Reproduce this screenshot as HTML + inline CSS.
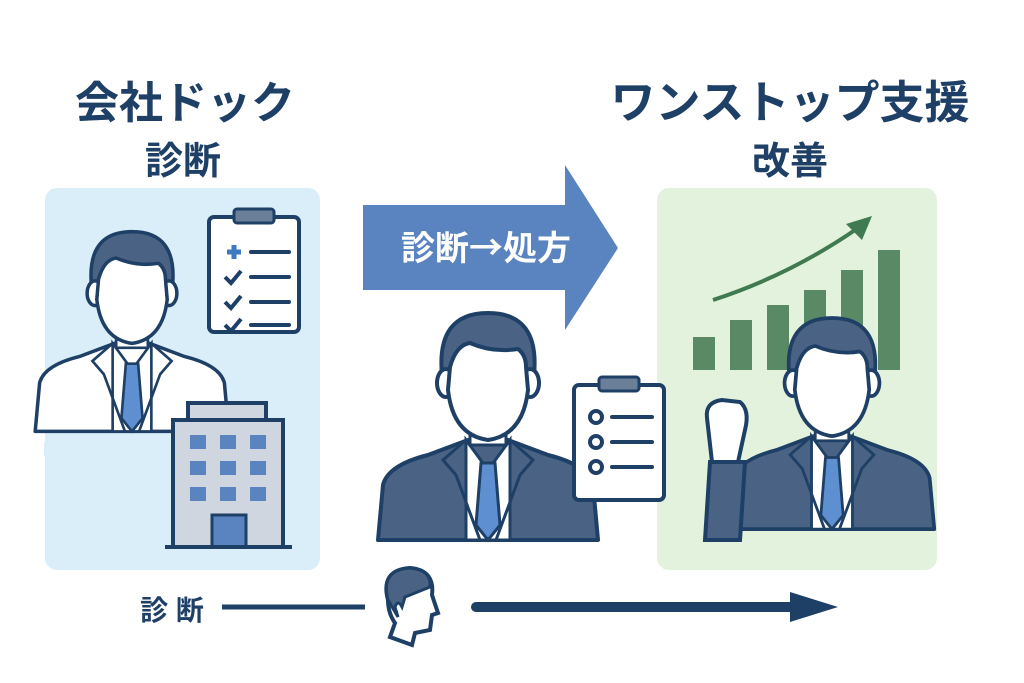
<!DOCTYPE html>
<html><head><meta charset="utf-8"><style>
html,body{margin:0;padding:0;background:#fff;}
svg{display:block;}
text{font-family:"Liberation Sans","Noto Sans CJK JP",sans-serif;font-weight:bold;}
</style></head><body>
<svg width="1024" height="683" viewBox="0 0 1024 683" xmlns="http://www.w3.org/2000/svg">
<defs>
<g id="person">
  <path d="M-110,155 L-105,100 Q-100,80 -60,70 L-20,55 L20,55 L60,70 Q100,80 105,100 L110,155 Z" fill="var(--suit)" stroke="#1e3f66" stroke-width="4" stroke-linejoin="round"/>
  <path d="M-22,55 L0,85 L22,55 L22,155 L-22,155 Z" fill="#fff" stroke="#1e3f66" stroke-width="3"/>
  <path d="M-7,78 L7,78 L12,140 L0,155 L-12,140 Z" fill="#5e8fd0" stroke="#1e3f66" stroke-width="3"/>
  <path d="M-22,55 L-45,75 L-32,90 L-8,155" fill="none" stroke="#1e3f66" stroke-width="3"/>
  <path d="M22,55 L45,75 L32,90 L8,155" fill="none" stroke="#1e3f66" stroke-width="3"/>
  <rect x="-18" y="35" width="36" height="25" fill="#fff" stroke="#1e3f66" stroke-width="3"/>
  <path d="M-46,-10 Q-52,-72 0,-72 Q52,-72 46,-10 Z" fill="#4a6283" stroke="#1e3f66" stroke-width="4" stroke-linejoin="round"/>
  <ellipse cx="-42" cy="-2" rx="9" ry="14" fill="#fff" stroke="#1e3f66" stroke-width="4"/>
  <ellipse cx="42" cy="-2" rx="9" ry="14" fill="#fff" stroke="#1e3f66" stroke-width="4"/>
  <path d="M-38,-18 Q-32,-40 -18,-42 Q5,-32 30,-36 Q38,-30 38,-18 L40,5 Q35,50 0,55 Q-35,50 -40,5 Z" fill="#fff" stroke="#1e3f66" stroke-width="4" stroke-linejoin="round"/>
</g>
<g id="clip">
  <rect x="0" y="10" width="90" height="115" rx="5" fill="#fff" stroke="#1e3f66" stroke-width="4"/>
  <rect x="25" y="2" width="40" height="14" rx="3" fill="#6b7f98" stroke="#1e3f66" stroke-width="3"/>
</g>
</defs>

<text x="185" y="118" font-size="44" fill="#1e3f66" text-anchor="middle">会社ドック</text>
<text x="183" y="174" font-size="38" fill="#1e3f66" text-anchor="middle">診断</text>
<text x="790" y="118" font-size="45" fill="#1e3f66" text-anchor="middle">ワンストップ支援</text>
<text x="790" y="174" font-size="38" fill="#1e3f66" text-anchor="middle">改善</text>

<rect x="45" y="188" width="275" height="382" rx="12" fill="#d9eef9"/>
<rect x="657" y="188" width="280" height="382" rx="12" fill="#e3f2dc"/>

<path d="M363,205 L565,205 L565,165 L618,248 L565,330 L565,290 L363,290 Z" fill="#5a84bf"/>
<text x="486" y="260" font-size="34" fill="#fff" text-anchor="middle" font-weight="normal" style="font-family:'Noto Sans CJK JP',sans-serif">診断→処方</text>

<g transform="translate(209,207)">
  <use href="#clip"/>
  <path d="M18,45 h14 M25,38 v14" stroke="#3e7ac0" stroke-width="5"/>
  <path d="M42,45 h38 M42,70 h38 M42,95 h38 M42,118 h38" stroke="#1e3f66" stroke-width="4" stroke-linecap="round"/>
  <path d="M16,70 l6,6 l10,-12 M16,95 l6,6 l10,-12 M16,118 l6,6 l10,-12" fill="none" stroke="#1e3f66" stroke-width="4"/>
</g>

<g transform="translate(132,295) scale(0.88)" style="--suit:#ffffff"><use href="#person"/></g>
<rect x="44" y="442" width="140" height="14" fill="#d9eef9"/>

<rect x="188" y="403" width="78" height="18" fill="#cfd6e0" stroke="#1e3f66" stroke-width="4"/>
<rect x="173" y="420" width="110" height="127" fill="#cfd6e0" stroke="#1e3f66" stroke-width="4"/>
<g fill="#5a84bf">
<rect x="190" y="435" width="16" height="14"/><rect x="220" y="435" width="16" height="14"/><rect x="250" y="435" width="16" height="14"/>
<rect x="190" y="461" width="16" height="14"/><rect x="220" y="461" width="16" height="14"/><rect x="250" y="461" width="16" height="14"/>
<rect x="190" y="487" width="16" height="14"/><rect x="220" y="487" width="16" height="14"/><rect x="250" y="487" width="16" height="14"/>
</g>
<rect x="212" y="515" width="34" height="32" fill="#5a84bf" stroke="#1e3f66" stroke-width="3"/>
<line x1="165" y1="547" x2="292" y2="547" stroke="#1e3f66" stroke-width="4"/>

<g transform="translate(488,385)" style="--suit:#4a6283"><use href="#person"/></g>
<g transform="translate(574,375)">
  <use href="#clip"/>
  <circle cx="22" cy="42" r="6" fill="none" stroke="#1e3f66" stroke-width="4"/>
  <circle cx="22" cy="67" r="6" fill="none" stroke="#1e3f66" stroke-width="4"/>
  <circle cx="22" cy="92" r="6" fill="none" stroke="#1e3f66" stroke-width="4"/>
  <path d="M38,42 h40 M38,67 h40 M38,92 h40" stroke="#1e3f66" stroke-width="4" stroke-linecap="round"/>
</g>

<g fill="#5a8a65">
<rect x="693" y="337" width="22" height="33"/><rect x="730" y="320" width="22" height="50"/>
<rect x="767" y="305" width="22" height="65"/><rect x="804" y="290" width="22" height="80"/>
<rect x="841" y="270" width="22" height="100"/><rect x="878" y="250" width="22" height="120"/>
</g>
<path d="M713,300 Q790,275 858,228" fill="none" stroke="#3f7a50" stroke-width="4"/>
<path d="M872,216 L846,224 L862,240 Z" fill="#3f7a50"/>

<g transform="translate(832,385) scale(0.93)" style="--suit:#4a6283"><use href="#person"/></g>
<path d="M705,540 L710,462 L745,462 L740,540 Z" fill="#4a6283" stroke="#1e3f66" stroke-width="4"/>
<path d="M707,418 Q705,402 722,400 L740,402 Q750,410 745,430 L738,462 L712,462 Z" fill="#fff" stroke="#1e3f66" stroke-width="4"/>

<text x="172" y="620" font-size="28" fill="#1e3f66" text-anchor="middle">診 断</text>
<line x1="222" y1="607" x2="365" y2="607" stroke="#1e3f66" stroke-width="5"/>
<g transform="translate(410,605)">
  <path d="M-22,-5 Q-30,-35 0,-37 Q25,-35 22,-10 L28,8 L22,10 L20,25 L5,28 L2,40 L-20,32 L-15,18 Q-22,8 -22,-5 Z" fill="#fff" stroke="#1e3f66" stroke-width="4"/>
  <path d="M-22,-5 Q-30,-35 0,-37 Q22,-35 20,-18 Q5,-12 -5,-8 L-8,2 Q-12,-6 -15,2 L-12,12 Z" fill="#4a6283" stroke="#1e3f66" stroke-width="3"/>
</g>
<line x1="476" y1="607" x2="800" y2="607" stroke="#1e3f66" stroke-width="10" stroke-linecap="round"/>
<path d="M790,592 L838,607 L790,622 Z" fill="#1e3f66"/>
</svg>
</body></html>
